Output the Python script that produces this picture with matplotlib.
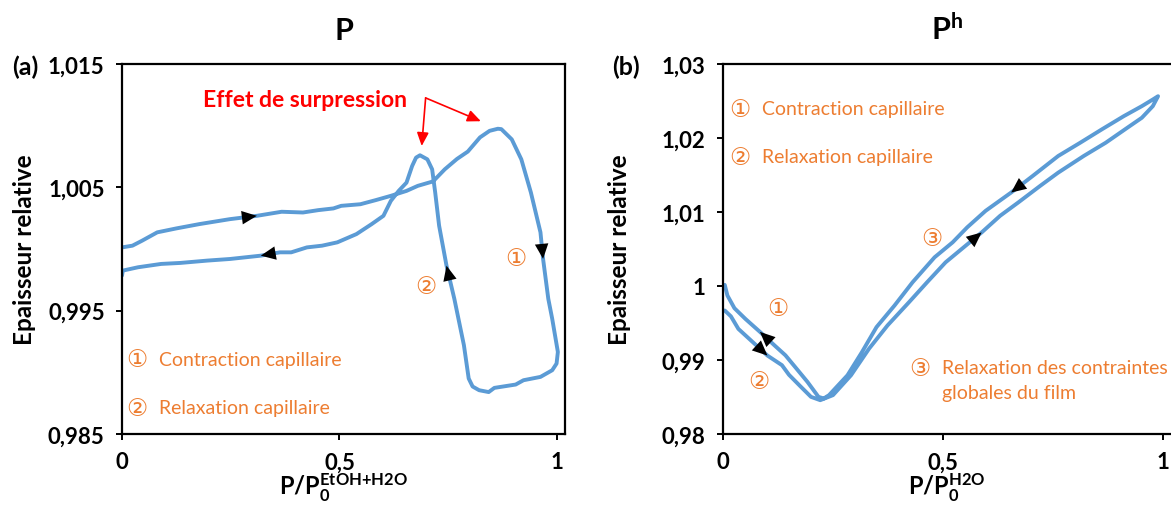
import numpy as np
import matplotlib
matplotlib.use('Agg')
import matplotlib.pyplot as plt

plt.rcParams['font.family'] = ['Lato', 'DejaVu Sans', 'Noto Sans CJK JP']
plt.rcParams['mathtext.fontset'] = 'custom'
plt.rcParams['mathtext.rm'] = 'Lato:bold'
plt.rcParams['mathtext.it'] = 'Lato:bold'
plt.rcParams['mathtext.bf'] = 'Lato:bold'

BLUE = '#5B9BD5'
ORANGE = '#ED7D31'
CIRCLE_FONT = ['DejaVu Sans', 'Noto Sans CJK JP']

# (a) EtOH+H2O cycle, traced along the loop
p_a = [0.000, 0.024, 0.046, 0.081, 0.125, 0.178, 0.248, 0.310, 0.367, 0.416,
       0.451, 0.486, 0.504, 0.548, 0.583, 0.618, 0.654, 0.680, 0.715, 0.742,
       0.770, 0.795, 0.823, 0.845, 0.864, 0.872, 0.896, 0.918, 0.940, 0.962,
       0.968, 0.980, 0.989, 1.002, 0.999, 0.989, 0.962, 0.923, 0.905, 0.856,
       0.843, 0.821, 0.806, 0.797, 0.786, 0.764, 0.746, 0.729, 0.720, 0.713,
       0.702, 0.685, 0.676, 0.667, 0.654, 0.636, 0.618, 0.601, 0.574, 0.539,
       0.495, 0.460, 0.425, 0.389, 0.363, 0.319, 0.248, 0.196, 0.134, 0.090,
       0.037, 0.002, 0.000]
e_a = [1.00013, 1.00027, 1.00067, 1.00135, 1.00167, 1.00202, 1.00242, 1.00269, 1.00302, 1.00296,
       1.00315, 1.00329, 1.00350, 1.00363, 1.00396, 1.00431, 1.00471, 1.00512, 1.00548, 1.00646,
       1.00730, 1.00790, 1.00905, 1.00958, 1.00975, 1.00972, 1.00889, 1.00727, 1.00458, 1.00135,
       0.99920, 0.99596, 0.99434, 0.99165, 0.99071, 0.99017, 0.98963, 0.98936, 0.98901, 0.98874,
       0.98840, 0.98855, 0.98885, 0.98950, 0.99220, 0.99596, 0.99865, 1.00189, 1.00458, 1.00646,
       1.00727, 1.00760, 1.00741, 1.00673, 1.00538, 1.00471, 1.00390, 1.00269, 1.00202, 1.00121,
       1.00054, 1.00027, 1.00013, 0.99973, 0.99973, 0.99946, 0.99919, 0.99906, 0.99887, 0.99879,
       0.99852, 0.99825, 0.99785]
arrows_a = [7, 30, 46, 65]

# (b) H2O cycle
p_b = [0.004, 0.018, 0.035, 0.068, 0.101, 0.134, 0.150, 0.175, 0.200, 0.221,
       0.250, 0.291, 0.332, 0.374, 0.423, 0.464, 0.506, 0.547, 0.588, 0.630,
       0.671, 0.721, 0.762, 0.820, 0.870, 0.919, 0.952, 0.977, 0.989,
       0.977, 0.952, 0.911, 0.861, 0.812, 0.762, 0.704, 0.655, 0.597, 0.555,
       0.522, 0.481, 0.431, 0.390, 0.349, 0.316, 0.283, 0.241,
       0.229, 0.217, 0.192, 0.167, 0.142, 0.117, 0.084, 0.051, 0.026, 0.010, 0.004]
e_b = [0.99669, 0.99590, 0.99420, 0.99240, 0.99060, 0.98930, 0.98800, 0.98650, 0.98502, 0.98457,
       0.98525, 0.98794, 0.99153, 0.99467, 0.99782, 1.00051, 1.00320, 1.00522, 1.00724, 1.00949,
       1.01128, 1.01353, 1.01532, 1.01757, 1.01936, 1.02138, 1.02273, 1.02430, 1.02565,
       1.02520, 1.02430, 1.02295, 1.02116, 1.01936, 1.01757, 1.01487, 1.01263, 1.01016, 1.00792,
       1.00590, 1.00388, 1.00051, 0.99737, 0.99445, 0.99108, 0.98794, 0.98525,
       0.98480, 0.98502, 0.98704, 0.98884, 0.99063, 0.99198, 0.99380, 0.99555, 0.99700, 0.99872, 1.00015]
arrows_b = [4, 18, 36, 53]


def arrow_heads(ax, x, y, idx):
    for i in idx:
        ax.annotate('', xy=(x[i], y[i]), xytext=(x[i - 1], y[i - 1]),
                    arrowprops=dict(arrowstyle='-|>,head_length=0.6,head_width=0.27',
                                    mutation_scale=18, color='k', lw=0,
                                    shrinkA=0, shrinkB=0), zorder=5)


def circled(ax, x, y, n, label=None):
    ax.text(x, y, '\u2460\u2461\u2462'[n - 1], color=ORANGE, fontsize=17,
            family=CIRCLE_FONT, ha='center', va='center')
    if label:
        ax.annotate(label, xy=(x, y), xytext=(16, 0), textcoords='offset points',
                    color=ORANGE, fontsize=14, va='center')


def style(ax, yticks, ylabels, xsup):
    ax.set_xlim(0, 1.0184)
    ax.set_xticks([0, 0.5, 1])
    ax.set_xticklabels(['0', '0,5', '1'])
    ax.set_yticks(yticks)
    ax.set_yticklabels(ylabels)
    ax.set_ylim(yticks[0], yticks[-1])
    for s in ax.spines.values():
        s.set_linewidth(1.6)
    ax.tick_params(direction='out', length=4.5, width=1.4, labelsize=16)
    ax.tick_params(axis='x', pad=8)
    ax.tick_params(axis='y', pad=8)
    for t in ax.get_xticklabels() + ax.get_yticklabels():
        t.set_fontweight('bold')
    ax.set_ylabel('Epaisseur relative', fontsize=17.5, fontweight='bold')
    ax.set_xlabel(r'$\mathrm{P/P_0^{' + xsup + '}}$', fontsize=17)


fig = plt.figure(figsize=(11.71, 5.06), dpi=100)
ax1 = fig.add_axes([122 / 1171, 1 - 435 / 506, 443 / 1171, 370 / 506])
ax2 = fig.add_axes([723 / 1171, 1 - 435 / 506, 448 / 1171, 370 / 506])

# panel (a)
ax1.plot(p_a, e_a, color=BLUE, lw=2.8, solid_capstyle='round', solid_joinstyle='round')
arrow_heads(ax1, p_a, e_a, arrows_a)
style(ax1, [0.985, 0.995, 1.005, 1.015], ['0,985', '0,995', '1,005', '1,015'], 'EtOH{+}H2O')
ax1.yaxis.set_label_coords(-0.194, 0.5)
ax1.xaxis.set_label_coords(0.5, -0.1)
ax1.set_title('P', fontsize=22, fontweight='bold', pad=18)

ax1.text(0.421, 1.0121, 'Effet de surpression', color='#FF0000', fontsize=16.5,
         fontweight='bold', ha='center', va='center')
ax1.annotate('', xy=(0.689, 1.00835), xytext=(0.698, 1.01225),
             arrowprops=dict(arrowstyle='-|>,head_length=0.5,head_width=0.22',
                             mutation_scale=16, color='#FF0000', lw=1.2, shrinkA=0, shrinkB=0))
ax1.annotate('', xy=(0.825, 1.01036), xytext=(0.698, 1.01225),
             arrowprops=dict(arrowstyle='-|>,head_length=0.5,head_width=0.22',
                             mutation_scale=16, color='#FF0000', lw=1.2, shrinkA=0, shrinkB=0))

circled(ax1, 0.0345, 0.99108, 1, 'Contraction capillaire')
circled(ax1, 0.0345, 0.98711, 2, 'Relaxation capillaire')
circled(ax1, 0.906, 0.99925, 1)
circled(ax1, 0.698, 0.99700, 2)

# panel (b)
ax2.plot(p_b, e_b, color=BLUE, lw=2.8, solid_capstyle='round', solid_joinstyle='round')
arrow_heads(ax2, p_b, e_b, arrows_b)
style(ax2, [0.98, 0.99, 1.0, 1.01, 1.02, 1.03], ['0,98', '0,99', '1', '1,01', '1,02', '1,03'], 'H2O')
ax2.spines['right'].set_visible(False)
ax2.yaxis.set_label_coords(-0.205, 0.5)
ax2.xaxis.set_label_coords(0.5, -0.1)
ax2.set_title(r'$\mathrm{P^h}$', fontsize=22, pad=18)

circled(ax2, 0.0386, 1.02394, 1, 'Contraction capillaire')
circled(ax2, 0.0386, 1.01747, 2, 'Relaxation capillaire')
circled(ax2, 0.125, 0.99700, 1)
circled(ax2, 0.082, 0.98716, 2)
circled(ax2, 0.475, 1.00643, 3)
circled(ax2, 0.447, 0.98895, 3, 'Relaxation des contraintes')
ax2.annotate('globales du film', xy=(0.447, 0.98560), xytext=(16, 0), textcoords='offset points',
             color=ORANGE, fontsize=14, va='center')

fig.text(25 / 1171, 1 - 67 / 506, '(a)', fontsize=18, fontweight='bold', ha='center', va='center')
fig.text(626 / 1171, 1 - 67 / 506, '(b)', fontsize=18, fontweight='bold', ha='center', va='center')

fig.savefig('out.png', dpi=100)
